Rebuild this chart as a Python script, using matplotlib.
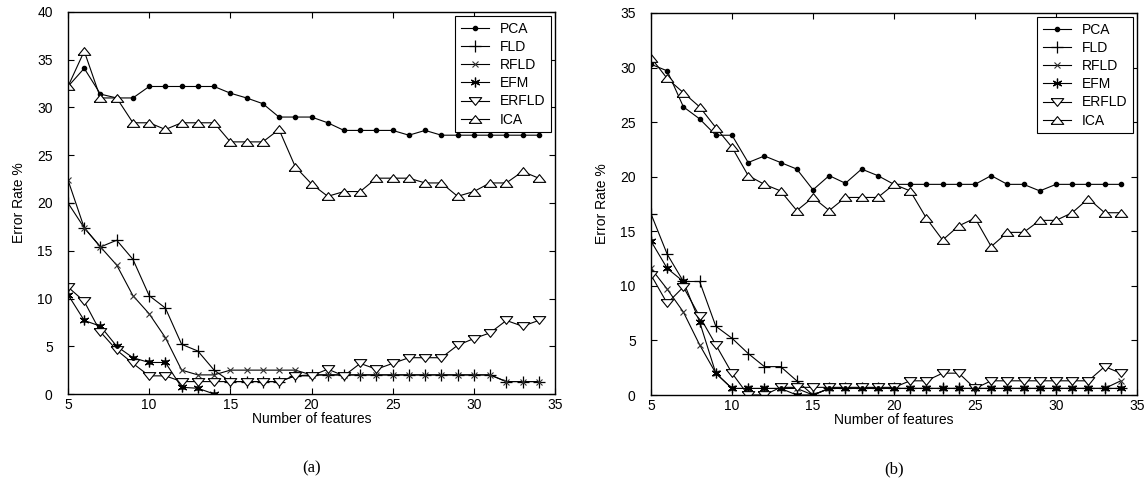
import numpy as np
import matplotlib
matplotlib.use("Agg")
import matplotlib.pyplot as plt

plt.rcParams['font.family'] = ['Liberation Sans', 'DejaVu Sans']

# number of features
n = list(range(5, 35))

# ---- panel (a) ----
pca_a = [32.2, 34.1, 31.4, 31.0, 31.0, 32.2, 32.2, 32.2, 32.2, 32.2,
         31.5, 31.0, 30.4, 29.0, 29.0, 29.0, 28.4, 27.6, 27.6, 27.6,
         27.6, 27.1, 27.6, 27.1, 27.1, 27.1, 27.1, 27.1, 27.1, 27.1]
fld_a = [20.0, 17.4, 15.4, 16.1, 14.1, 10.3, 9.0, 5.2, 4.5, 2.5,
         1.3, 1.3, 1.3, 1.3, 1.9, 2.0, 2.0, 2.0, 2.0, 2.0,
         2.0, 2.0, 2.0, 2.0, 2.0, 2.0, 2.0, 1.3, 1.3, 1.3]
rfld_a = [22.4, 17.4, 15.4, 13.5, 10.3, 8.4, 5.9, 2.5, 2.0, 2.0,
          2.5, 2.5, 2.5, 2.5, 2.5, 2.0, 2.0, 2.0, 2.0, 2.0,
          2.0, 2.0, 2.0, 2.0, 2.0, 2.0, 2.0, 1.3, 1.3, 1.3]
efm_a = [10.4, 7.7, 7.1, 5.0, 3.8, 3.3, 3.3, 0.7, 0.6, 0.0]
erfld_a = [11.2, 9.7, 6.5, 4.6, 3.2, 1.9, 1.9, 1.3, 1.3, 1.3,
           1.3, 1.3, 1.3, 1.3, 1.9, 1.9, 2.6, 1.9, 3.2, 2.6,
           3.2, 3.8, 3.8, 3.8, 5.1, 5.8, 6.4, 7.7, 7.1, 7.7]
ica_a = [32.2, 35.9, 31.0, 31.0, 28.4, 28.4, 27.7, 28.4, 28.4, 28.4,
         26.4, 26.4, 26.4, 27.7, 23.8, 22.0, 20.7, 21.2, 21.2, 22.6,
         22.6, 22.6, 22.1, 22.1, 20.7, 21.2, 22.1, 22.1, 23.3, 22.6]

# ---- panel (b) ----
pca_b = [30.3, 29.7, 26.4, 25.3, 23.8, 23.8, 21.3, 21.9, 21.3, 20.7,
         18.8, 20.1, 19.4, 20.7, 20.1, 19.3, 19.3, 19.3, 19.3, 19.3,
         19.3, 20.1, 19.3, 19.3, 18.7, 19.3, 19.3, 19.3, 19.3, 19.3]
fld_b = [16.6, 12.9, 10.4, 10.4, 6.3, 5.2, 3.8, 2.6, 2.6, 1.3,
         0.0, 0.6, 0.6, 0.6, 0.6, 0.6, 0.6, 0.6, 0.6, 0.6,
         0.6, 0.6, 0.6, 0.6, 0.6, 0.6, 0.6, 0.6, 0.6, 0.6]
rfld_b = [11.6, 9.7, 7.6, 4.6, 2.0, 0.6, 0.6, 0.6, 0.6, 0.6,
          0.0, 0.6, 0.6, 0.6, 0.6, 0.6, 0.6, 0.6, 0.6, 0.6,
          0.6, 0.6, 0.6, 0.6, 0.6, 0.6, 0.6, 0.6, 0.6, 1.3]
efm_b = [14.1, 11.6, 10.4, 6.7, 2.0, 0.6, 0.6, 0.6, 0.6, 0.0,
         0.0, 0.6, 0.6, 0.6, 0.6, 0.6, 0.6, 0.6, 0.6, 0.6,
         0.6, 0.6, 0.6, 0.6, 0.6, 0.6, 0.6, 0.6, 0.6, 0.6]
erfld_b = [11.0, 8.4, 9.9, 7.2, 4.6, 2.0, 0.0, 0.0, 0.7, 0.7,
           0.7, 0.7, 0.7, 0.7, 0.7, 0.7, 1.3, 1.3, 2.0, 2.0,
           0.6, 1.3, 1.3, 1.3, 1.3, 1.3, 1.3, 1.3, 2.6, 2.0]
ica_b = [30.9, 29.0, 27.7, 26.4, 24.5, 22.7, 20.1, 19.3, 18.7, 16.9,
         18.1, 16.9, 18.1, 18.1, 18.1, 19.3, 18.7, 16.2, 14.2, 15.5,
         16.2, 13.6, 14.9, 14.9, 16.0, 16.0, 16.7, 18.0, 16.7, 16.7]

labels = ["PCA", "FLD", "RFLD", "EFM", "ERFLD", "ICA"]

# flattened triangles like the original
tri_up = [(-1, -0.62), (1, -0.62), (0, 0.62), (-1, -0.62)]
tri_dn = [(-1, 0.62), (1, 0.62), (0, -0.62), (-1, 0.62)]

styles = [
    dict(marker='.', ms=6, mfc='black', mec='black'),
    dict(marker='+', ms=9, mew=0.9, mec='black'),
    dict(marker='x', ms=4, mew=0.8, mec='#333333'),
    dict(marker=(6, 2, 0), ms=7, mew=0.9, mec='black'),
    dict(marker=tri_dn, ms=9, mfc='white', mec='black', mew=0.8),
    dict(marker=tri_up, ms=9, mfc='white', mec='black', mew=0.8),
]

fig = plt.figure(figsize=(11.48, 4.86), dpi=100)
ax_a = fig.add_axes([68 / 1148, 92 / 486, 487 / 1148, 382 / 486])
ax_b = fig.add_axes([651 / 1148, 91 / 486, 486 / 1148, 382 / 486])


def draw(ax, series, ymax, tag):
    for (xs, ys), lab, st in zip(series, labels, styles):
        ax.plot(xs, ys, color='black', lw=0.8, label=lab, **st)
    # small dot in the centre of the EFM asterisks
    xs, ys = series[3]
    ax.plot(xs, ys, ls='none', marker='o', ms=2.5, color='black')
    ax.set_xlim(5, 35)
    ax.set_ylim(0, ymax)
    ax.set_xticks(range(5, 36, 5))
    ax.set_yticks(range(0, ymax + 1, 5))
    ax.tick_params(direction='in', top=True, right=True, length=4,
                   width=0.8, labelsize=10)
    ax.tick_params(axis='x', pad=3)
    ax.tick_params(axis='y', pad=11)
    for s in ax.spines.values():
        s.set_linewidth(1.0)
    ax.set_xlabel("Number of features", fontsize=10, labelpad=0)
    ax.set_ylabel("Error Rate %", fontsize=10, labelpad=8)
    leg = ax.legend(loc='upper right', fontsize=10, handlelength=2.0,
                    labelspacing=0.3, borderaxespad=0.3, fancybox=False,
                    framealpha=1, edgecolor='black', borderpad=0.4)
    leg.get_frame().set_linewidth(0.8)
    ax.text(0.5, -0.175, tag, transform=ax.transAxes, ha='center', va='top',
            fontsize=12, family='Liberation Serif')


draw(ax_a, [(n, pca_a), (n, fld_a), (n, rfld_a), (n[:len(efm_a)], efm_a),
            (n, erfld_a), (n, ica_a)], 40, "(a)")
draw(ax_b, [(n, pca_b), (n, fld_b), (n, rfld_b), (n, efm_b),
            (n, erfld_b), (n, ica_b)], 35, "(b)")

fig.savefig("out.png", dpi=100)
